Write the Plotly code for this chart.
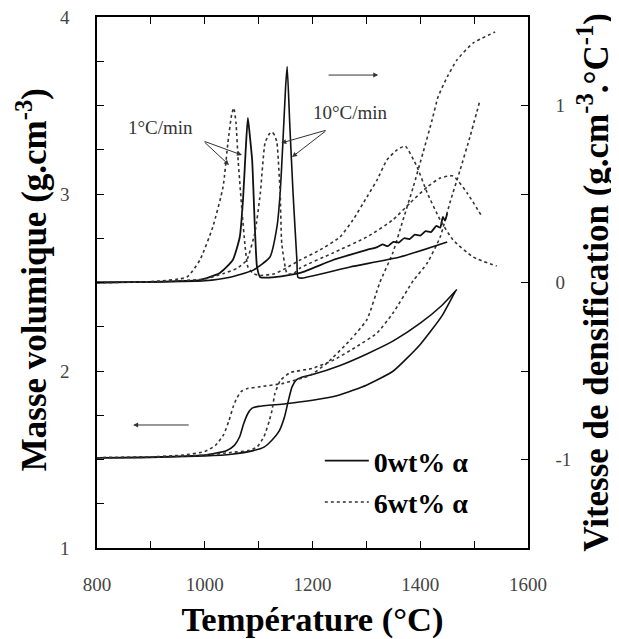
import plotly.graph_objects as go

# ---------------- Density curves (left axis, g.cm-3) ----------------
T_rho_0_1 = [800, 900, 1000, 1040, 1055, 1065, 1072, 1080, 1088, 1100, 1150, 1200, 1250, 1300, 1350, 1400, 1440, 1465]
rho_0_1 = [1.51, 1.513, 1.525, 1.55, 1.58, 1.63, 1.70, 1.76, 1.79, 1.80, 1.815, 1.835, 1.865, 1.92, 2.00, 2.15, 2.31, 2.45]

T_rho_0_10 = [800, 900, 1000, 1050, 1090, 1110, 1125, 1138, 1148, 1155, 1162, 1170, 1180, 1200, 1250, 1300, 1350, 1400, 1440, 1468]
rho_0_10 = [1.51, 1.512, 1.52, 1.53, 1.55, 1.57, 1.61, 1.66, 1.74, 1.83, 1.91, 1.95, 1.965, 1.98, 2.03, 2.095, 2.17, 2.27, 2.37, 2.46]

T_rho_6_1 = [800, 900, 960, 1000, 1020, 1035, 1045, 1053, 1060, 1068, 1078, 1100, 1145, 1195, 1227, 1270,
             1301, 1325, 1349, 1368, 1387, 1405, 1422, 1433, 1450, 1468, 1498, 1539]
rho_6_1 = [1.51, 1.515, 1.525, 1.545, 1.58, 1.64, 1.72, 1.80, 1.85, 1.885, 1.90, 1.91, 1.93, 1.975, 2.045, 2.175,
           2.29, 2.50, 2.667, 2.853, 3.04, 3.232, 3.418, 3.548, 3.661, 3.757, 3.853, 3.915]

T_rho_6_10 = [800, 900, 1000, 1050, 1080, 1097, 1110, 1120, 1125, 1130, 1140, 1158, 1200, 1238, 1283, 1320,
              1350, 1387, 1413, 1437, 1455, 1474, 1492, 1511]
rho_6_10 = [1.51, 1.513, 1.525, 1.54, 1.55, 1.57, 1.63, 1.72, 1.78, 1.87, 1.945, 1.99, 2.015, 2.06, 2.14, 2.215,
            2.33, 2.51, 2.61, 2.757, 2.95, 3.136, 3.32, 3.53]

# ---------------- Densification rate curves (right axis, g.cm-3.°C-1) ----------------
T_r_0_1 = [800, 900, 950, 991, 1028, 1052, 1065, 1071, 1076, 1080, 1084, 1088, 1093, 1097, 1103, 1130, 1177,
           1238, 1301, 1320, 1330, 1340, 1350, 1360, 1370, 1380, 1390, 1400, 1410, 1420, 1430, 1437, 1442, 1446, 1450]
r_0_1 = [0, 0.003, 0.008, 0.014, 0.054, 0.127, 0.257, 0.466, 0.75, 0.93, 0.82, 0.692, 0.314, 0.088, 0.03, 0.03, 0.054,
         0.127, 0.184, 0.20, 0.215, 0.205, 0.23, 0.225, 0.25, 0.245, 0.27, 0.265, 0.29, 0.285, 0.32, 0.31, 0.37, 0.35, 0.39]

T_r_0_10 = [800, 900, 1000, 1047, 1090, 1121, 1134, 1140, 1145, 1150, 1153, 1158, 1164, 1171, 1173, 1180, 1270, 1362, 1450]
r_0_10 = [0, 0.003, 0.01, 0.03, 0.07, 0.144, 0.314, 0.506, 0.79, 1.1, 1.22, 0.88, 0.5, 0.127, 0.03, 0.025, 0.088, 0.144, 0.229]

T_r_6_1 = [800, 900, 967, 991, 1015, 1034, 1043, 1050, 1054, 1058, 1062, 1069, 1075, 1080, 1090, 1103, 1130, 1150,
           1177, 1214, 1251, 1275, 1301, 1320, 1338, 1357, 1372, 1394, 1413, 1437, 1461, 1498, 1542]
r_6_1 = [0, 0.005, 0.031, 0.127, 0.314, 0.54, 0.79, 0.95, 0.986, 0.9, 0.69, 0.41, 0.2, 0.088, 0.05, 0.04, 0.05, 0.08,
         0.127, 0.184, 0.257, 0.353, 0.483, 0.58, 0.692, 0.749, 0.771, 0.653, 0.506, 0.353, 0.24, 0.144, 0.093]

T_r_6_10 = [800, 900, 1000, 1034, 1060, 1078, 1093, 1103, 1112, 1120, 1125, 1130, 1134, 1140, 1143, 1153, 1165, 1177,
            1238, 1301, 1349, 1381, 1413, 1437, 1461, 1487, 1515]
r_6_10 = [0, 0.004, 0.02, 0.05, 0.08, 0.127, 0.28, 0.5, 0.79, 0.84, 0.85, 0.83, 0.79, 0.5, 0.22, 0.05, 0.05, 0.082,
          0.167, 0.257, 0.353, 0.449, 0.54, 0.59, 0.602, 0.506, 0.37]

# ---------------- Axes ticks ----------------
x_tickvals = [800, 1000, 1200, 1400, 1600]
x_ticktext = ['800', '1000', '1200', '1400', '1600']
x_minor = [900, 1100, 1300, 1500]
y_tickvals = [1, 2, 3, 4]
y_ticktext = ['1', '2', '3', '4']
y_minor = [1.25, 1.5, 1.75, 2.25, 2.5, 2.75, 3.25, 3.5, 3.75]
y2_tickvals = [-1, 0, 1]
y2_ticktext = ['-1', '0', '1']
y2_minor = [-1.5, -0.5, 0.5, 1.5]

SERIF = "Liberation Serif, Times New Roman, serif"
SOLID = "#111111"
DOT = "#333333"

fig = go.Figure()

def add(x, y, dotted, axis, name=None, legend=False, width=1.6):
    fig.add_trace(go.Scatter(
        x=x, y=y, mode='lines', yaxis=axis, name=name, showlegend=legend,
        legendgroup=name if legend else None,
        line=dict(color=DOT if dotted else SOLID, width=width,
                  dash='dot' if dotted else 'solid', shape='spline', smoothing=0.5),
        hoverinfo='skip'))

add(T_r_0_1, r_0_1, False, 'y2', '<b>0wt% α</b>', True, 1.8)
add(T_r_6_1, r_6_1, True, 'y2', '<b>6wt% α</b>', True, 1.6)
add(T_r_0_10, r_0_10, False, 'y2', width=1.6)
add(T_r_6_10, r_6_10, True, 'y2', width=1.6)
add(T_rho_0_1, rho_0_1, False, 'y', width=1.6)
add(T_rho_0_10, rho_0_10, False, 'y', width=1.6)
add(T_rho_6_1, rho_6_1, True, 'y', width=1.6)
add(T_rho_6_10, rho_6_10, True, 'y', width=1.6)

tickfont = dict(family=SERIF, size=19, color='#444')
axis_common = dict(showgrid=False, zeroline=False, ticks='inside', ticklen=7, tickwidth=1.2,
                   tickcolor='black', showline=True, linecolor='black', linewidth=1.5,
                   tickfont=tickfont, ticklabeloverflow='allow', tickmode='array')

def minor(vals):
    return dict(tickmode='array', tickvals=vals, ticks='inside', ticklen=7, tickwidth=1.2,
                tickcolor='black', showgrid=False)

# the page body adds an 8 px offset, so the figure is sized to end at the window edge
fig.update_layout(
    width=611, height=631,
    margin=dict(l=89, r=91, t=9, b=91, autoexpand=False),
    paper_bgcolor='white', plot_bgcolor='white',
    font=dict(family=SERIF),
    xaxis=dict(range=[800, 1600], tickvals=x_tickvals, ticktext=x_ticktext, minor=minor(x_minor),
               mirror='ticks', ticklabelstandoff=18,
               title=dict(text='<b>Température (°C)</b>', font=dict(family=SERIF, size=34.5, color='black'),
                          standoff=17),
               **axis_common),
    yaxis=dict(range=[1, 4], tickvals=y_tickvals, ticktext=y_ticktext, minor=minor(y_minor),
               ticklabelstandoff=22,
               **axis_common),
    yaxis2=dict(range=[-1.5, 1.5], overlaying='y', side='right',
                tickvals=y2_tickvals, ticktext=y2_ticktext, minor=minor(y2_minor), ticklabelstandoff=22,
                title=dict(text='<b>Vitesse de densification (g.cm<sup>-3</sup>.°C<sup>-1</sup>)</b>',
                           font=dict(family=SERIF, size=35, color='black'), standoff=8),
                **axis_common),
    legend=dict(x=0.517, y=0.211, xanchor='left', yanchor='top', bgcolor='rgba(0,0,0,0)',
                font=dict(family=SERIF, size=28, color='black'), tracegroupgap=2,
                itemwidth=44),
)

ann_font = dict(family=SERIF, size=19, color='#333')
arrow_style = dict(showarrow=True, arrowhead=2, arrowsize=1, arrowwidth=1, arrowcolor='#333',
                   xref='x', yref='y', axref='x', ayref='y', text='')
annotations = [
    # left axis title (placed as rotated text so it can sit nearer the page edge)
    dict(x=-0.15, y=0.505, xref='paper', yref='paper', xanchor='center', yanchor='middle',
         text='<b>Masse volumique (g.cm<sup>-3</sup>)</b>', textangle=-90, showarrow=False,
         borderpad=0, font=dict(family=SERIF, size=35, color='black')),
    dict(x=917, y=3.373, xref='x', yref='y', text='1°C/min', showarrow=False, font=ann_font),
    dict(x=1270, y=3.463, xref='x', yref='y', text='10°C/min', showarrow=False, font=ann_font),
    dict(x=1045, y=3.164, ax=997, ay=3.30, **arrow_style),
    dict(x=1069, y=3.22, ax=997, ay=3.30, **arrow_style),
    dict(x=1142, y=3.288, ax=1227, ay=3.362, **arrow_style),
    dict(x=1162, y=3.209, ax=1227, ay=3.362, **arrow_style),
    dict(x=1322, y=3.672, ax=1227, ay=3.672, **arrow_style),
    dict(x=867, y=1.695, ax=973, ay=1.695, **arrow_style),
]
fig.update_layout(annotations=annotations)

fig.write_html("out.html")
